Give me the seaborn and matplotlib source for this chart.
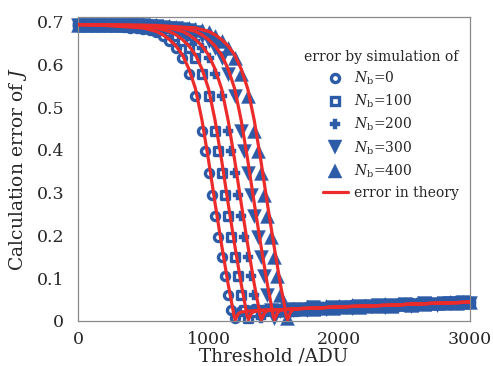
import numpy as np
import matplotlib.pyplot as plt
import seaborn as sns
from matplotlib.lines import Line2D

nan = np.nan

# thresholds where the simulated errors are plotted (ADU)
sim_thr = [0, 50, 100, 150, 200, 250, 300, 350, 400, 450,
           500, 550, 600, 650, 700, 750, 800, 850, 900, 950,
           975, 1000, 1025, 1050, 1075, 1100, 1125, 1150, 1175, 1200,
           1225, 1250, 1275, 1300, 1325, 1350, 1375, 1400, 1425, 1450,
           1475, 1500, 1525, 1550, 1575, 1600, 1650, 1700, 1750, 1800,
           1850, 1900, 1950, 2000, 2050, 2100, 2150, 2200, 2250, 2300,
           2350, 2400, 2450, 2500, 2550, 2600, 2650, 2700, 2750, 2800,
           2850, 2900, 2950, 3000]

# simulated error, one list per background level Nb
sim_nb0 = [.693, .693, .692, .692, .691, .690, .689, .688, .686, .685,
           .683, .680, .675, .666, .654, .638, .615, .578, .525, .445,
           .397, .345, .295, .245, .197, .150, .104, .060, .025, .008,
           nan, .024, nan, .022, nan, .027, nan, .024, nan, .023,
           nan, .026, nan, .028, nan, .024, .028, .028, .032, .029,
           .028, .033, .032, .033, .031, .037, .035, .034, .037, .033,
           .036, .039, .038, .036, .042, .039, .039, .043, .042, .040,
           .044, .043, .046, .045]
sim_nb100 = [.693, .693, .693, .693, .692, .692, .691, .690, .689, .688,
             .686, .685, .683, .680, .675, .666, .654, .638, .615, .578,
             nan, .525, nan, .445, .397, .345, .295, .245, .197, .150,
             .104, .060, .025, .008, nan, .022, nan, .026, nan, .025,
             nan, .028, nan, .025, nan, .028, .024, .030, .029, .028,
             .033, .032, .031, .032, .035, .032, .035, .038, .034, .036,
             .038, .034, .038, .040, .038, .039, .043, .039, .042, .042,
             .044, .042, .044, .044]
sim_nb200 = [.693, .693, .693, .693, .693, .693, .692, .692, .691, .690,
             .689, .688, .686, .685, .683, .680, .675, .666, .654, .638,
             nan, .615, nan, .578, nan, .525, nan, .445, .397, .345,
             .295, .245, .197, .150, .104, .060, .025, .008, nan, .026,
             nan, .023, nan, .028, nan, .027, .030, .027, .027, .031,
             .033, .031, .030, .034, .034, .031, .034, .037, .038, .035,
             .037, .035, .039, .038, .038, .042, .041, .039, .041, .044,
             .041, .046, .043, .045]
sim_nb300 = [.693, .693, .693, .693, .693, .693, .693, .693, .692, .692,
             .691, .690, .689, .688, .686, .685, .683, .680, .675, .666,
             nan, .654, nan, .638, nan, .615, nan, .578, nan, .525,
             nan, .445, .397, .345, .295, .245, .197, .150, .104, .060,
             .025, .008, nan, .023, nan, .028, .025, .028, .026, .032,
             .029, .028, .033, .030, .033, .031, .035, .033, .034, .038,
             .033, .037, .035, .039, .036, .038, .041, .039, .038, .042,
             .041, .041, .044, .043]
sim_nb400 = [.693, .693, .693, .693, .693, .693, .693, .693, .693, .693,
             .692, .692, .691, .690, .689, .688, .686, .685, .683, .680,
             nan, .675, nan, .666, nan, .654, nan, .638, nan, .615,
             nan, .578, nan, .525, nan, .445, .397, .345, .295, .245,
             .197, .150, .104, .060, .025, .008, .029, .027, .032, .028,
             .031, .034, .031, .034, .033, .037, .032, .036, .037, .036,
             .039, .036, .039, .039, .037, .042, .040, .042, .043, .041,
             .045, .043, .045, .045]

# theoretical error curves
th_x_nb0 = [0, 200, 400, 500, 600, 650, 700, 750, 800, 850, 900, 950, 1000,
            1050, 1100, 1150, 1175, 1195, 1205, 1228, 1250, 1300, 1400, 1500,
            1600, 1700, 1800, 2000, 2200, 2400, 2600, 2800, 3000]
th_y_nb0 = [.693, .691, .687, .685, .677, .669, .658, .643, .622, .589, .543,
            .469, .376, .275, .178, .086, .046, .012, .003, .017, .021, .023,
            .025, .026, .027, .029, .030, .033, .035, .037, .040, .042, .044]
th_x_nb100 = [0, 300, 500, 600, 700, 750, 800, 850, 900, 950, 1000, 1050,
              1100, 1150, 1200, 1250, 1275, 1295, 1305, 1328, 1350, 1400,
              1500, 1600, 1700, 1800, 2000, 2200, 2400, 2600, 2800, 3000]
th_y_nb100 = [.693, .691, .687, .685, .677, .669, .658, .643, .622, .589,
              .543, .469, .376, .275, .178, .086, .046, .012, .003, .018,
              .022, .025, .026, .027, .029, .030, .033, .035, .037, .040,
              .042, .044]
th_x_nb200 = [0, 400, 600, 700, 800, 850, 900, 950, 1000, 1050, 1100, 1150,
              1200, 1250, 1300, 1350, 1375, 1395, 1405, 1428, 1450, 1500,
              1600, 1700, 1800, 2000, 2200, 2400, 2600, 2800, 3000]
th_y_nb200 = [.693, .691, .687, .685, .677, .669, .658, .643, .622, .589,
              .543, .469, .376, .275, .178, .086, .046, .012, .003, .019,
              .024, .026, .027, .029, .030, .033, .035, .037, .040, .042,
              .044]
th_x_nb300 = [0, 500, 700, 800, 900, 950, 1000, 1050, 1100, 1150, 1200,
              1250, 1300, 1350, 1400, 1450, 1475, 1495, 1505, 1528, 1550,
              1600, 1700, 1800, 2000, 2200, 2400, 2600, 2800, 3000]
th_y_nb300 = [.693, .691, .687, .685, .677, .669, .658, .643, .622, .589,
              .543, .469, .376, .275, .178, .086, .046, .012, .003, .020,
              .025, .027, .029, .030, .033, .035, .037, .040, .042, .044]
th_x_nb400 = [0, 600, 800, 900, 1000, 1050, 1100, 1150, 1200, 1250, 1300,
              1350, 1400, 1450, 1500, 1550, 1575, 1595, 1605, 1628, 1650,
              1700, 1800, 2000, 2200, 2400, 2600, 2800, 3000]
th_y_nb400 = [.693, .691, .687, .685, .677, .669, .658, .643, .622, .589,
              .543, .469, .376, .275, .178, .086, .046, .012, .003, .021,
              .027, .029, .030, .033, .035, .037, .040, .042, .044]

nb_labels = ['$N_\\mathrm{b}$=0', '$N_\\mathrm{b}$=100', '$N_\\mathrm{b}$=200',
             '$N_\\mathrm{b}$=300', '$N_\\mathrm{b}$=400']
x_ticks = [0, 1000, 2000, 3000]
y_ticks = [0, 0.1, 0.2, 0.3, 0.4, 0.5, 0.6, 0.7]
y_tick_labels = ['0', '0.1', '0.2', '0.3', '0.4', '0.5', '0.6', '0.7']

BLUE = '#2c5ba8'
RED = '#ec2b2b'
GREY = '#8a8a8a'

sns.set_style('white')
plt.rcParams['font.family'] = ['DejaVu Serif']
plt.rcParams['mathtext.fontset'] = 'dejavuserif'

fig, ax = plt.subplots(figsize=(4.93, 3.66), dpi=100)
fig.subplots_adjust(left=0.158, right=0.953, top=0.954, bottom=0.123)

# marker style per series: (marker, size, hollow)
styles = [('o', 34, True), ('s', 28, True), ('P', 55, False),
          ('v', 100, False), ('^', 100, False)]
sims = [sim_nb0, sim_nb100, sim_nb200, sim_nb300, sim_nb400]

for sim, (mk, sz, hollow) in zip(sims, styles):
    if hollow:
        sns.scatterplot(x=sim_thr, y=sim, marker=mk, s=sz, color='white',
                        edgecolor=BLUE, linewidth=2.4, clip_on=False,
                        zorder=2, ax=ax)
    else:
        sns.scatterplot(x=sim_thr, y=sim, marker=mk, s=sz, color=BLUE,
                        edgecolor=BLUE, linewidth=0.3, clip_on=False,
                        zorder=2, ax=ax)

theory = [(th_x_nb0, th_y_nb0), (th_x_nb100, th_y_nb100),
          (th_x_nb200, th_y_nb200), (th_x_nb300, th_y_nb300),
          (th_x_nb400, th_y_nb400)]
for tx, ty in theory:
    sns.lineplot(x=tx, y=ty, color=RED, linewidth=2.3, sort=False,
                 estimator=None, zorder=3, ax=ax)

ax.set_xlim(0, 3000)
ax.set_ylim(0, 0.711)
ax.set_xticks(x_ticks)
ax.set_yticks(y_ticks)
ax.set_yticklabels(y_tick_labels)
ax.tick_params(axis='both', direction='in', length=4, width=0.8,
               color=GREY, labelsize=12.5)
ax.tick_params(axis='x', pad=7)
ax.tick_params(axis='y', pad=10)
for sp in ax.spines.values():
    sp.set_color(GREY)
    sp.set_linewidth(0.9)

ax.set_xlabel('Threshold /ADU', fontsize=13.2, labelpad=0)
ax.set_ylabel('Calculation error of $J$', fontsize=13.5, labelpad=5)

handles = []
for mk, sz, hollow in styles:
    ms = np.sqrt(sz)
    if hollow:
        handles.append(Line2D([], [], ls='none', marker=mk, ms=ms,
                              mfc='white', mec=BLUE, mew=2.4))
    else:
        handles.append(Line2D([], [], ls='none', marker=mk, ms=ms,
                              mfc=BLUE, mec=BLUE, mew=0.3))
handles.append(Line2D([], [], color=RED, lw=2.3))
labels = nb_labels + ['error in theory']

leg = ax.legend(handles, labels, title='error by simulation of',
                loc='upper right', bbox_to_anchor=(0.985, 0.91),
                frameon=False, fontsize=10, title_fontsize=10,
                handlelength=1.8, handletextpad=0.4, labelspacing=0.42,
                alignment='right', borderaxespad=0)

fig.savefig('out.png', dpi=100)
